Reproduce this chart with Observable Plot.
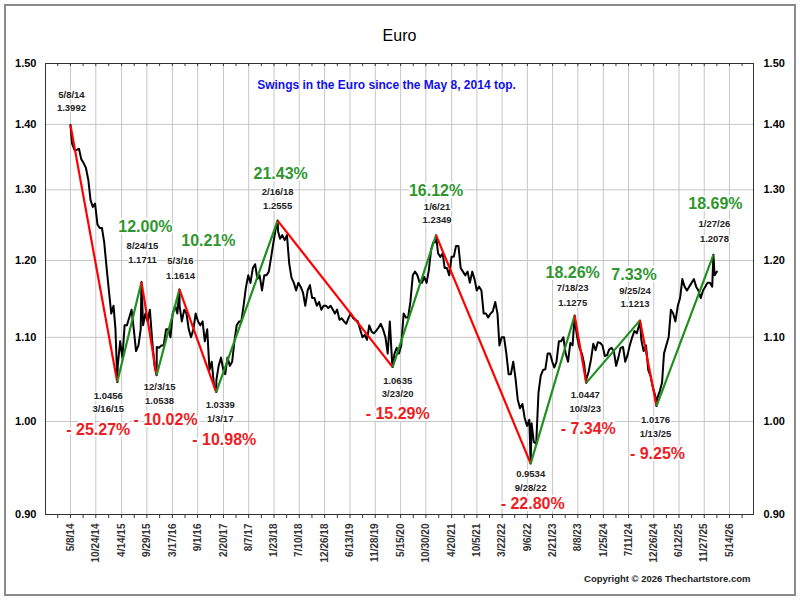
<!DOCTYPE html>
<html><head><meta charset="utf-8">
<script src="https://cdn.jsdelivr.net/npm/d3@7"></script>
<script src="https://cdn.jsdelivr.net/npm/@observablehq/plot@0.6"></script>
<style>
html,body{margin:0;padding:0;background:#fff;}
#wrap{position:relative;width:800px;height:600px;overflow:hidden;font-family:"Liberation Sans",Arial,sans-serif;}
#border{position:absolute;left:4px;top:4px;width:788px;height:588px;border:2px solid #8c8c8c;pointer-events:none;}
</style></head><body>
<div id="wrap"><div id="chart"></div><div id="border"></div></div>
<script>
// ---- data ----
const xTickLabels = ["5/8/14","10/24/14","4/14/15","9/29/15","3/17/16","9/1/16","2/20/17","8/7/17","1/23/18","7/10/18","12/26/18","6/13/19","11/28/19","5/15/20","10/30/20","4/20/21","10/5/21","3/22/22","9/6/22","2/21/23","8/8/23","1/25/24","7/11/24","12/26/24","6/12/25","11/27/25","5/14/26"];
const yTicks = [0.90, 1.00, 1.10, 1.20, 1.30, 1.40, 1.50];

const pivotDates  = ["5/8/14","3/16/15","8/24/15","12/3/15","5/3/16","1/3/17","2/16/18","3/23/20","1/6/21","9/28/22","7/18/23","10/3/23","9/25/24","1/13/25","1/27/26"];
const pivotValues = [1.3992, 1.0456, 1.1711, 1.0538, 1.1614, 1.0339, 1.2555, 1.0635, 1.2349, 0.9534, 1.1275, 1.0447, 1.1213, 1.0176, 1.2078];

// two readings per month (around the 4th and the 19th)
const eur2014 = [null,1.370, 1.360,1.360, 1.362,1.346, 1.340,1.333, 1.315,1.285, 1.275,1.280, 1.250,1.245, 1.245,1.225]; // from May
const eur2015 = [1.190,1.160, 1.130,1.140, 1.110,1.065, 1.095,1.075, 1.115,1.115, 1.125,1.135, 1.110,1.083, 1.090,1.110, 1.115,1.130, 1.120,1.135, 1.095,1.065, 1.088,1.087];
const eur2016 = [1.090,1.090, 1.110,1.110, 1.100,1.130, 1.140,1.130, 1.140,1.120, 1.135,1.130, 1.110,1.100, 1.110,1.130, 1.120,1.115, 1.120,1.095, 1.110,1.060, 1.070,1.042];
const eur2017 = [1.048,1.065, 1.075,1.060, 1.055,1.075, 1.065,1.070, 1.095,1.115, 1.120,1.120, 1.140,1.163, 1.180,1.170, 1.190,1.195, 1.175,1.180, 1.160,1.180, 1.180,1.185];
const eur2018 = [1.205,1.225, 1.245,1.240, 1.230,1.235, 1.228,1.235, 1.196,1.177, 1.170,1.160, 1.170,1.165, 1.157,1.140, 1.160,1.167, 1.150,1.150, 1.140,1.145, 1.135,1.140];
const eur2019 = [1.140,1.137, 1.140,1.135, 1.130,1.135, 1.122,1.124, 1.120,1.117, 1.125,1.130, 1.124,1.122, 1.120,1.110, 1.100,1.103, 1.097,1.115, 1.107,1.105, 1.108,1.112];
const eur2020 = [1.117,1.110, 1.100,1.080, 1.120,1.070, 1.080,1.087, 1.080,1.090, 1.130,1.125, 1.125,1.145, 1.180,1.185, 1.180,1.170, 1.170,1.178, 1.170,1.187, 1.215,1.225];
const eur2021 = [1.225,1.210, 1.205,1.210, 1.190,1.190, 1.180,1.205, 1.205,1.220, 1.220,1.190, 1.185,1.180, 1.185,1.170, 1.185,1.175, 1.160,1.165, 1.160,1.130, 1.130,1.125];
const eur2022 = [1.130,1.133, 1.145,1.130, 1.090,1.100, 1.100,1.080, 1.055,1.055, 1.070,1.050, 1.025,1.015, 1.020,1.004, 0.995,1.002, 0.998,0.977, 0.975,1.033, 1.053,1.060];
const eur2023 = [1.061,1.080, 1.080,1.070, 1.063,1.070, 1.095,1.095, 1.100,1.080, 1.070,1.093, 1.090,1.120, 1.100,1.087, 1.080,1.068, 1.049,1.058, 1.073,1.092, 1.084,1.094];
const eur2024 = [1.093,1.090, 1.077,1.078, 1.085,1.087, 1.083,1.065, 1.075,1.087, 1.088,1.070, 1.078,1.090, 1.100,1.108, 1.105,1.115, 1.097,1.083, 1.090,1.060, 1.053,1.040];
const eur2025 = [1.030,1.027, 1.035,1.045, 1.080,1.090, 1.100,1.135, 1.130,1.120, 1.140,1.150, 1.175,1.165, 1.160,1.165, 1.170,1.175, 1.165,1.160, 1.150,1.160, 1.165,1.170];
const eur2026 = [1.170,1.165, 1.180,1.185];

// ---- build ----
const parse = d3.utcParse("%m/%d/%y");
const years = [[2014, eur2014, 4],[2015, eur2015, 0],[2016, eur2016, 0],[2017, eur2017, 0],[2018, eur2018, 0],[2019, eur2019, 0],[2020, eur2020, 0],[2021, eur2021, 0],[2022, eur2022, 0],[2023, eur2023, 0],[2024, eur2024, 0],[2025, eur2025, 0],[2026, eur2026, 0]];
const pivots = pivotDates.map((s, i) => ({date: parse(s), value: pivotValues[i], label: s}));
const price = [];
for (const [yr, arr, m0] of years) {
  arr.forEach((v, i) => {
    if (v == null) return;
    price.push({date: new Date(Date.UTC(yr, m0 + Math.floor(i / 2), i % 2 === 0 ? 4 : 19)), value: v});
  });
}
pivots.forEach(p => price.push({date: p.date, value: p.value}));
price.sort((a, b) => a.date - b.date);

const segs = pivots.slice(1).map((p, i) => ({a: pivots[i], b: p, color: p.value < pivots[i].value ? "#ff0000" : "#1f8f1f"}));

const majors = xTickLabels.map(parse);
const minors = [];
for (let i = 0; i < majors.length - 1; i++) minors.push(new Date((+majors[i] + +majors[i + 1]) / 2));
const L = majors.length - 1;
minors.push(new Date(+majors[0] - (majors[1] - majors[0]) / 2));
minors.push(new Date(+majors[L] + (majors[L] - majors[L - 1]) / 2));
const allTicks = [...majors, ...minors];
const labelOf = new Map(majors.map((d, i) => [+d, xTickLabels[i]]));

// label layout offsets (pixels) per pivot
const lblDx   = [1, -9, 1, 3, 1, 4, 0, 5, 1, 0, -2, -1, -5, -1, 1];
const dateDy  = [-30, 27, -36, 12, -28, 27, -29, 27, -28, 24, -28, 26, -29, 28, -31];
const valDy   = [-17, 14, -22, 26, -13, 13, -15, 14, -15, 10, -13, 12, -16, 14, -16];
const pctDx   = [0, -19, 4, 9, 29, 8, 3, 5, 0, 2, -2, 2, -6, 1, 2];
const pctDy   = [0, 48, -55, 45, -48, 48, -47, 47, -44, 40, -43, 46, -46, 48, -51];

const FONT = "Liberation Sans, Arial, sans-serif";
const small = {fontSize: 9.5, fontWeight: "bold", fill: "#222", stroke: "white", strokeWidth: 3, paintOrder: "stroke"};
const labelMarks = pivots.flatMap((p, i) => {
  const m = [
    Plot.text([p], {x: "date", y: "value", text: d => d.label, dx: lblDx[i], dy: dateDy[i], ...small}),
    Plot.text([p], {x: "date", y: "value", text: d => d.value.toFixed(4), dx: lblDx[i], dy: valDy[i], ...small})
  ];
  if (i > 0) {
    const r = p.value / pivots[i - 1].value - 1;
    const txt = (r < 0 ? "- " : "") + Math.abs(r * 100).toFixed(2) + "%";
    m.push(Plot.text([p], {x: "date", y: "value", text: () => txt, dx: pctDx[i], dy: pctDy[i],
      fontSize: 16, fontWeight: "bold", fill: r < 0 ? "#ee1c24" : "#2f962f", stroke: "white", strokeWidth: 4, paintOrder: "stroke"}));
  }
  return m;
});

const yLabel = {y: d => d, text: d => d.toFixed(2), fontSize: 11, fontWeight: "bold", fill: "#000"};

const chart = Plot.plot({
  width: 800, height: 600,
  marginLeft: 45, marginRight: 47, marginTop: 63, marginBottom: 86,
  style: {fontFamily: FONT, background: "white", color: "#000", overflow: "visible"},
  x: {type: "utc", domain: [new Date(Date.UTC(2013, 10, 23)), new Date(Date.UTC(2026, 9, 21))]},
  y: {type: "log", domain: [0.89999, 1.50001], axis: null},
  marks: [
    Plot.gridX(majors, {stroke: "#c6c6c6", strokeOpacity: 1}),
    Plot.gridY(yTicks, {stroke: "#c6c6c6", strokeOpacity: 1}),
    Plot.line(price, {x: "date", y: "value", stroke: "#000", strokeWidth: 2}),
    Plot.link(segs, {x1: d => d.a.date, y1: d => d.a.value, x2: d => d.b.date, y2: d => d.b.value, stroke: d => d.color, strokeWidth: 2.2}),
    ...labelMarks,
    Plot.frame({stroke: "#333"}),
    Plot.tickX(allTicks, {stroke: "#333", insetBottom: 448}),
    Plot.axisX({ticks: allTicks, tickFormat: d => labelOf.get(+d) ?? "", tickRotate: -90, tickSize: 4, tickPadding: 5, fontSize: 10, fontWeight: "bold", fill: "#333", label: null, stroke: "#333"}),
    Plot.text(yTicks, {...yLabel, frameAnchor: "left", textAnchor: "end", dx: -9}),
    Plot.text(yTicks, {...yLabel, frameAnchor: "right", textAnchor: "start", dx: 10}),
    Plot.text(["Euro"], {text: d => d, frameAnchor: "top", dy: -34, fontSize: 16, fill: "#000"}),
    Plot.text(["Swings in the Euro since the May 8, 2014 top."], {text: d => d, frameAnchor: "top", dy: 17, dx: -13, fontSize: 12, fontWeight: "bold", fill: "#1010ee"}),
    Plot.text(["Copyright \u00a9 2026 Thechartstore.com"], {text: d => d, frameAnchor: "bottom-right", textAnchor: "end", dx: -3, dy: 67, fontSize: 9.5, fontWeight: "bold", fill: "#222"})
  ]
});
document.getElementById("chart").append(chart);
</script>
</body></html>
